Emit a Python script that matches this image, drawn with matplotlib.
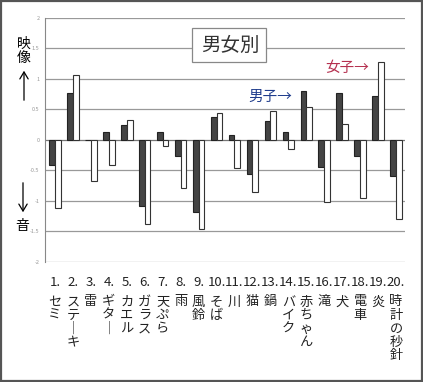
import matplotlib
matplotlib.use("Agg")
import matplotlib.pyplot as plt
from matplotlib.patches import Rectangle, FancyArrowPatch
import numpy as np

plt.rcParams['font.family'] = ['Noto Sans CJK JP', 'DejaVu Sans']

# 項目と男女別の値 (映像 +, 音 -)
labels = ["セミ", "ステーキ", "雷", "ギター", "カエル", "ガラス", "天ぷら", "雨", "風鈴", "そば",
          "川", "猫", "鍋", "バイク", "赤ちゃん", "滝", "犬", "電車", "炎", "時計の秒針"]
male = [-0.42, 0.77, 0.0, 0.12, 0.24, -1.08, 0.12, -0.27, -1.19, 0.37,
        0.08, -0.56, 0.31, 0.12, 0.80, -0.45, 0.77, -0.26, 0.72, -0.59]
female = [-1.11, 1.06, -0.67, -0.41, 0.33, -1.38, -0.11, -0.79, -1.46, 0.43,
          -0.47, -0.86, 0.47, -0.15, 0.53, -1.02, 0.26, -0.96, 1.28, -1.30]
yticks = [2, 1.5, 1, 0.5, 0, -0.5, -1, -1.5, -2]

W, H = 423, 382
fig = plt.figure(figsize=(W / 100, H / 100), dpi=100)
fig.patch.set_facecolor("white")


def fx(px):
    return px / W


def fy(py):
    return 1 - py / H


# 外枠
fig.patches.append(Rectangle((0.002, 0.003), 0.995, 0.994, transform=fig.transFigure,
                             fill=False, edgecolor="#555555", linewidth=1.6))

ax = fig.add_axes([fx(45), fy(262), fx(405) - fx(45), fy(17.5) - fy(262)])
x = np.arange(1, len(labels) + 1)
w = 0.32
ax.bar(x - w, male, width=w, align="edge", color="#444444", edgecolor="#222222", linewidth=0.8, zorder=3)
ax.bar(x, female, width=w, align="edge", color="white", edgecolor="#333333", linewidth=0.8, zorder=3)

ax.set_xlim(0.443, 20.5)
ax.set_ylim(-2, 2)
for v in yticks:
    ax.axhline(v, color="#777777" if v == 0 else "#999999", linewidth=0.9, zorder=1)
ax.set_yticks(yticks)
ax.set_yticklabels([str(v) for v in yticks], fontsize=4, color="#999999")
ax.tick_params(axis="y", length=0, pad=4)
ax.set_xticks([])
for s in ["top", "right", "bottom"]:
    ax.spines[s].set_visible(False)
ax.spines["left"].set_color("#888888")

# 項目ラベル (番号と縦書き)
for i, lab in enumerate(labels):
    ax.text(x[i], -0.082, f"{i + 1}.", transform=ax.get_xaxis_transform(),
            ha="center", va="center", fontsize=9.5, color="#222222")
    vert = "\n".join(lab.replace("ー", "｜"))
    ax.text(x[i], -0.137, vert, transform=ax.get_xaxis_transform(),
            ha="center", va="top", fontsize=9.5, linespacing=1.05, color="#222222")

# タイトル枠
fig.patches.append(Rectangle((fx(192), fy(62)), fx(266) - fx(192), fy(28) - fy(62),
                             transform=fig.transFigure, facecolor="white",
                             edgecolor="#888888", linewidth=0.9, zorder=5))
fig.text(fx(230), fy(45), "男女別", ha="center", va="center", fontsize=14, color="#333333", zorder=6)

fig.text(fx(270), fy(97), "男子→", ha="center", va="center", fontsize=10.5, color="#1f3c8c")
fig.text(fx(347), fy(68), "女子→", ha="center", va="center", fontsize=10.5, color="#b5304f")

# 左側の説明
fig.text(fx(24), fy(51), "映\n像", ha="center", va="center", fontsize=10, linespacing=1.0)
fig.patches.append(FancyArrowPatch((fx(24), fy(103)), (fx(24), fy(68)),
                   transform=fig.transFigure, arrowstyle="->,head_width=3,head_length=5",
                   mutation_scale=1, color="black", linewidth=0.9))
fig.patches.append(FancyArrowPatch((fx(23), fy(180)), (fx(23), fy(215)),
                   transform=fig.transFigure, arrowstyle="->,head_width=3,head_length=5",
                   mutation_scale=1, color="black", linewidth=0.9))
fig.text(fx(22), fy(226), "音", ha="center", va="center", fontsize=10)

fig.savefig("out.png", dpi=100)
